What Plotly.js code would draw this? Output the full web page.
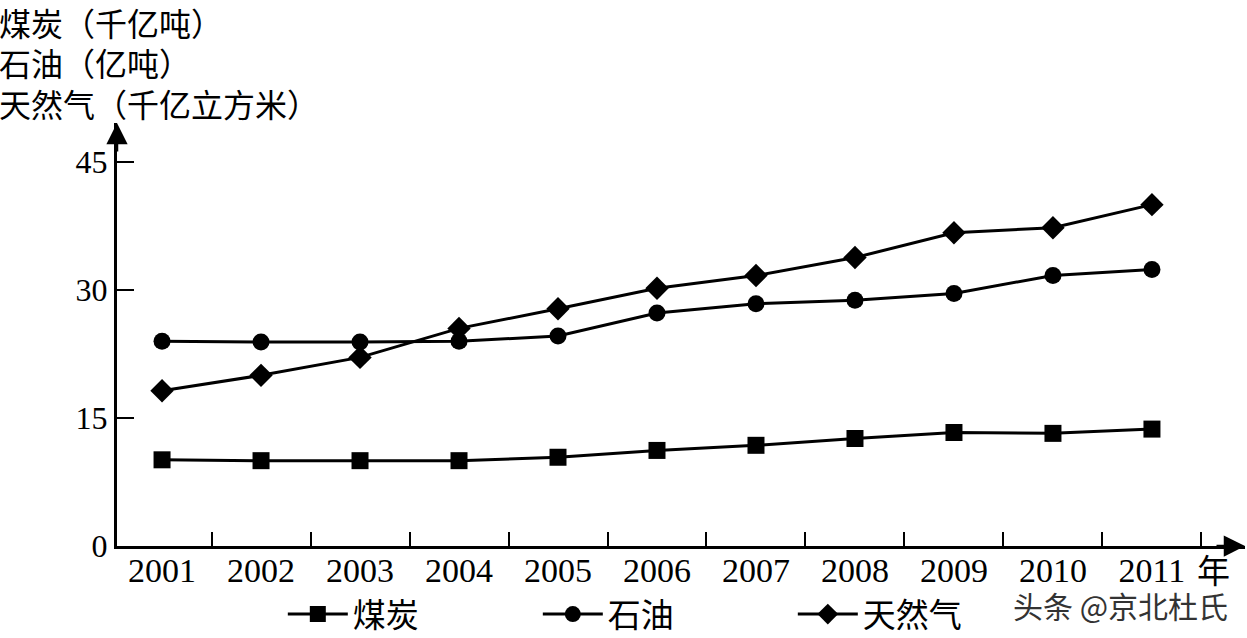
<!DOCTYPE html>
<html>
<head>
<meta charset="utf-8">
<script src="https://cdn.plot.ly/plotly-3.0.1.min.js"></script>
<style>html,body{margin:0;padding:0;background:#fff}#chart{width:1247px;height:638px}</style>
</head>
<body>
<div id="chart"></div>
<script>
var years = ['2001','2002','2003','2004','2005','2006','2007','2008','2009','2010','2011'];
var coal = [10.1, 10.0, 10.0, 10.0, 10.4, 11.2, 11.8, 12.6, 13.3, 13.2, 13.7];
var oil = [24.0, 23.9, 23.9, 24.0, 24.6, 27.3, 28.4, 28.8, 29.6, 31.7, 32.4];
var gas = [18.2, 20.0, 22.1, 25.5, 27.8, 30.2, 31.7, 33.8, 36.7, 37.3, 40.0];
var yTicks = [0, 15, 30, 45];
var names = ['煤炭', '石油', '天然气'];
var unitLines = ['煤炭（千亿吨）', '石油（亿吨）', '天然气（千亿立方米）'];

var FONT = 'Liberation Serif, "Noto Sans CJK SC", serif';
var CJK = '"Noto Sans CJK SC", "Liberation Serif", sans-serif';

function tr(y, name, sym, size) {
  return {
    x: years, y: y, name: name, type: 'scatter', mode: 'lines+markers',
    line: {color: '#000', width: 3},
    marker: {symbol: sym, size: size, color: '#000'}
  };
}
var data = [
  tr(coal, names[0], 'square', 17),
  tr(oil, names[1], 'circle', 17),
  tr(gas, names[2], 'diamond', 18)
];

var anns = [];
var ys = [1.238, 1.144, 1.047];
for (var i = 0; i < unitLines.length; i++) {
  anns.push({xref: 'paper', yref: 'paper', x: -0.106, y: ys[i], xanchor: 'left', yanchor: 'middle',
    text: unitLines[i], showarrow: false, font: {family: CJK, size: 32, color: '#000'}});
}
// axis arrows
anns.push({xref: 'paper', yref: 'paper', x: 0, y: 1, ax: 0, ay: 30, text: '', showarrow: true,
  arrowhead: 2, arrowsize: 1.7, arrowwidth: 2.5, arrowcolor: '#000', standoff: 0, startstandoff: 0});
anns.push({xref: 'paper', yref: 'paper', x: 1, y: 0, ax: -30, ay: 0, text: '', showarrow: true,
  arrowhead: 2, arrowsize: 1.7, arrowwidth: 2.5, arrowcolor: '#000', standoff: 0, startstandoff: 0});
anns.push({xref: 'paper', yref: 'paper', x: 0.972, y: -0.055, xanchor: 'center', yanchor: 'middle',
  text: '年', showarrow: false, font: {family: CJK, size: 33, color: '#000'}});
anns.push({xref: 'paper', yref: 'paper', x: 0.987, y: -0.14, xanchor: 'right', yanchor: 'middle',
  text: '头条 @京北杜氏', showarrow: false, font: {family: CJK, size: 30, color: '#333'}});

var layout = {
  width: 1247, height: 638,
  margin: {l: 117, r: 2, t: 123, b: 92, autoexpand: false},
  paper_bgcolor: '#fff', plot_bgcolor: '#fff',
  showlegend: true,
  legend: {orientation: 'h', x: 0.147, y: -0.161, xanchor: 'left', yanchor: 'middle',
    font: {family: CJK, size: 33, color: '#000'}, itemwidth: 60,
    entrywidth: 180, entrywidthmode: 'pixels', bgcolor: 'rgba(0,0,0,0)'},
  xaxis: {
    type: 'category', range: [-0.455, 10.94], tickson: 'boundaries',
    ticks: 'inside', ticklen: 14, tickwidth: 2, tickcolor: '#000',
    showline: true, linecolor: '#000', linewidth: 3, showgrid: false, zeroline: false,
    ticklabelstandoff: -8,
    tickfont: {family: FONT, size: 34, color: '#000'}, fixedrange: true
  },
  yaxis: {
    range: [0, 49.57], tickmode: 'array', tickvals: yTicks, ticktext: yTicks.map(String),
    ticks: 'inside', ticklen: 17, tickwidth: 2, tickcolor: '#000',
    showline: true, linecolor: '#000', linewidth: 3, showgrid: false, zeroline: false,
    tickfont: {family: FONT, size: 32, color: '#000'}, fixedrange: true
  },
  annotations: anns
};
Plotly.newPlot('chart', data, layout, {displayModeBar: false, staticPlot: true});
</script>
</body>
</html>
